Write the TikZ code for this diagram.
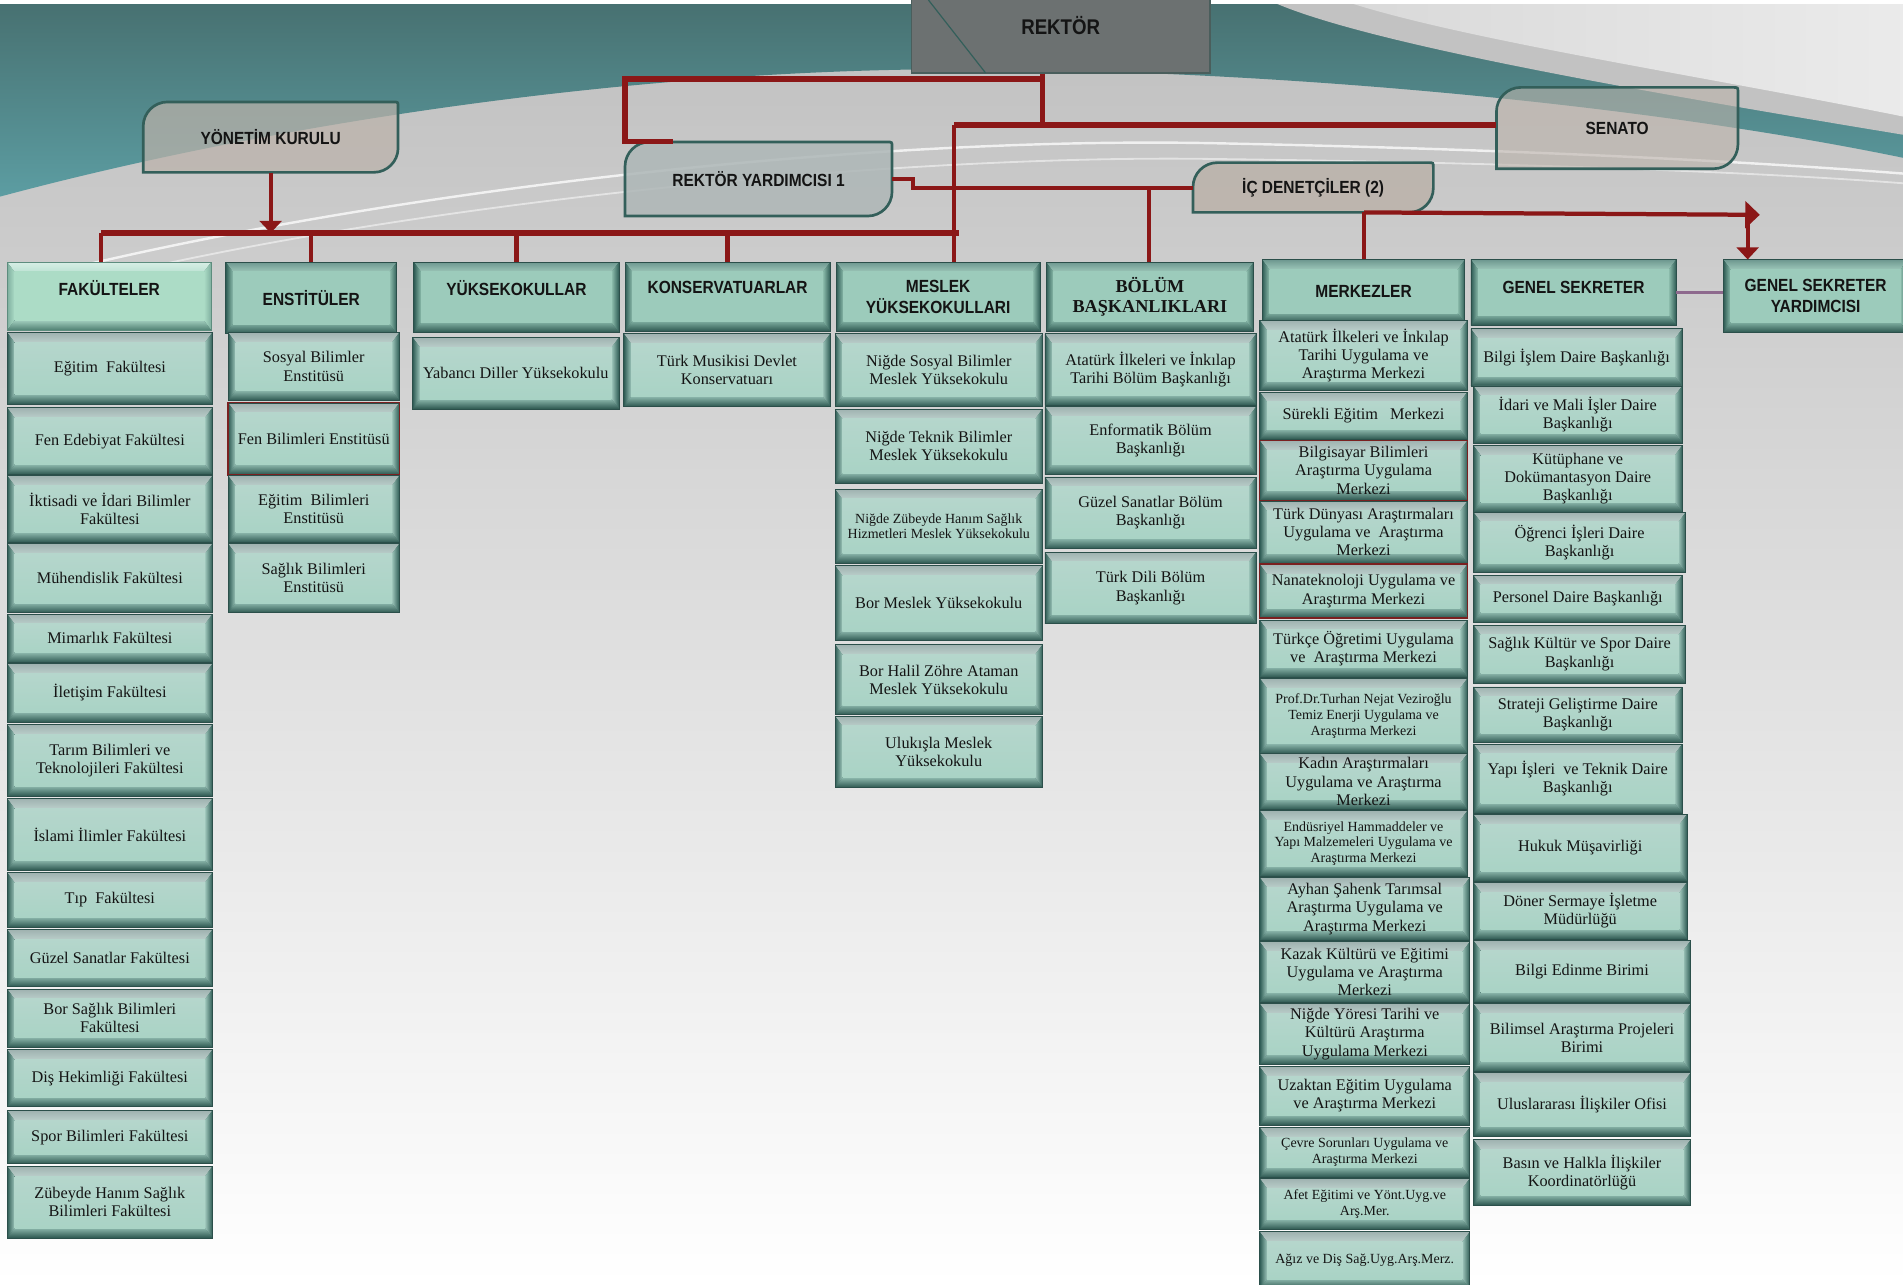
\documentclass[tikz,border=0pt]{standalone}
\usepackage{fontspec}
\setmainfont{Liberation Serif}
\newfontfamily\hfont[FakeStretch=0.88]{Liberation Sans}
\usetikzlibrary{arrows.meta}

\definecolor{txtc}{HTML}{141414}
\definecolor{bvbase}{HTML}{2F5953}
\definecolor{bvline}{HTML}{2B4F4A}
\definecolor{cred}{HTML}{8B1717}
\definecolor{redb}{HTML}{7A2020}
\definecolor{tlline}{HTML}{335F5A}
\definecolor{plc}{HTML}{8E6A8E}
\definecolor{tealA}{HTML}{477070}
\definecolor{tealB}{HTML}{5C9DA2}
\definecolor{ykf}{HTML}{BBB2AA}
\definecolor{ryf}{HTML}{AEB7B7}
\definecolor{rkfill}{HTML}{6C7171}
\definecolor{rkline}{HTML}{4A5E5C}

\newcommand{\bodycolors}{%
 \definecolor{tTa}{HTML}{9FB2B0}\definecolor{tTb}{HTML}{B9CDC9}%
 \definecolor{sO}{HTML}{2F5C55}\definecolor{sI}{HTML}{9CC4B9}%
 \definecolor{bI}{HTML}{88B3A8}\definecolor{bO}{HTML}{2C564F}%
 \definecolor{fT}{HTML}{B5D6CC}\definecolor{fM}{HTML}{CFE9E0}\definecolor{fB}{HTML}{A9D3C5}%
 \definecolor{bvline}{HTML}{2B4F4A}}
\newcommand{\hdrcolors}{%
 \definecolor{tTa}{HTML}{6E9890}\definecolor{tTb}{HTML}{9CC6B8}%
 \definecolor{sO}{HTML}{2F5C55}\definecolor{sI}{HTML}{8DBDAD}%
 \definecolor{bI}{HTML}{7AA99C}\definecolor{bO}{HTML}{2C564F}%
 \definecolor{fT}{HTML}{9CCBBB}\definecolor{fM}{HTML}{B3DCCD}\definecolor{fB}{HTML}{9CCBBB}%
 \definecolor{bvline}{HTML}{2B4F4A}}
\newcommand{\fakcolors}{%
 \definecolor{tTa}{HTML}{D7EEE5}\definecolor{tTb}{HTML}{BDE3D4}%
 \definecolor{sO}{HTML}{7FAF9F}\definecolor{sI}{HTML}{ACDCC6}%
 \definecolor{bI}{HTML}{9FCBBB}\definecolor{bO}{HTML}{4F7F72}%
 \definecolor{fT}{HTML}{ACDCC6}\definecolor{fM}{HTML}{B2DFCB}\definecolor{fB}{HTML}{ACDCC6}%
 \definecolor{bvline}{HTML}{5D8D7E}}
\bodycolors

\newcommand{\bodyf}{\fontsize{13.4}{15}\selectfont}
\newcommand{\smallf}{\fontsize{11.5}{13}\selectfont}
\newcommand{\hdf}{\hfont\bfseries\fontsize{14.5}{17}\selectfont}

\tikzset{
 bxt/.style={inner sep=0pt, align=center, text=txtc, font=\bodyf},
 sm/.style={font=\smallf},
 hdt/.style={font=\hdf},
 bdt/.style={font=\bfseries\fontsize{15}{17}\selectfont},
 redbd/.style={draw=redb, line width=1.2pt},
 conn/.style={draw=cred, line width=3.5pt, line join=miter},
 bus/.style={conn, line width=4.5pt},
 tl/.style={draw=tlline, line width=2.2pt},
 tlt/.style={font=\hfont\bfseries\fontsize{14.5}{17}\selectfont, text=txtc, inner sep=0pt},
 pline/.style={draw=plc, line width=3pt},
 rekt/.style={fill=rkfill, draw=rkline, line width=1.5pt, font=\hfont\bfseries\fontsize{17.5}{19}\selectfont, text=txtc, text depth=16pt, inner sep=0pt},
}

% bevelled box: [node options]{name}{x1}{y1}{x2}{y2}{text}
\newcommand{\bx}[7][]{%
 \fill[bvbase] (#3,#4) rectangle (#5,#6);
 \shade[top color=tTa,bottom color=tTb] (#3,#4) -- (#5,#4) -- ({#5-6},{#4+8}) -- ({#3+6},{#4+8}) -- cycle;
 \shade[left color=sO,right color=sI] (#3,#4) -- ({#3+6},{#4+8}) -- ({#3+6},{#6-8}) -- (#3,#6) -- cycle;
 \shade[left color=sI,right color=sO] (#5,#4) -- ({#5-6},{#4+8}) -- ({#5-6},{#6-8}) -- (#5,#6) -- cycle;
 \shade[top color=bI,bottom color=bO] (#3,#6) -- ({#3+6},{#6-8}) -- ({#5-6},{#6-8}) -- (#5,#6) -- cycle;
 \shade[top color=fT,middle color=fM,bottom color=fB] ({#3+6},{#4+8}) rectangle ({#5-6},{#6-8});
 \draw[draw=bvline,line width=0.7pt] (#3,#4) rectangle (#5,#6);
 \node[bxt,minimum width={(#5-#3)*1pt},minimum height={(#6-#4)*1pt},#1] (#2) at ({(#3+#5)/2},{(#4+#6)/2}) {#7};
}

% top-level rounded-diagonal box: [fill options]{name}{x1}{y1}{x2}{y2}{text}
\newcommand{\tbx}[7][]{%
 \path[tl,#1] (#3,#6) -- ({#3},{#4+20}) .. controls ({#3},{#4+9}) and ({#3+9},{#4}) .. ({#3+20},{#4})
   -- ({#5-4},{#4}) .. controls ({#5},{#4}) .. ({#5},{#4+4})
   -- ({#5},{#6-20}) .. controls ({#5},{#6-9}) and ({#5-9},{#6}) .. ({#5-20},{#6}) -- cycle;
 \node[tlt,minimum width={(#5-#3)*1pt},minimum height={(#6-#4)*1pt}] (#2) at ({(#3+#5)/2},{(#4+#6)/2}) {#7};
}

\begin{document}
\begin{tikzpicture}[x=1pt,y=-1pt]
\useasboundingbox (0,0) rectangle (1568,1058);
% ---------- background ----------
\shade[top color=black!25, middle color=black!13, bottom color=white] (0,0) rectangle (1568,1058);
\shade[top color=tealA, bottom color=tealB] (0,0) -- (1568,0) -- (1568,130)
  .. controls (1350,85) and (1050,58) .. (800,57)
  .. controls (550,56) and (250,95) .. (0,162) -- cycle;
\fill[black!24] (1045,0) .. controls (1120,35) and (1350,75) .. (1568,111) -- (1568,0) -- cycle;
\shade[left color=black!15, right color=black!8] (1105,0) .. controls (1200,32) and (1400,62) .. (1568,96) -- (1568,0) -- cycle;
\draw[white, opacity=0.75, line width=2pt] (30,228) .. controls (300,160) and (700,112) .. (1000,118) .. controls (1200,122) and (1400,130) .. (1568,143);
\draw[white, opacity=0.5, line width=1.5pt] (80,230) .. controls (350,165) and (750,127) .. (1000,131) .. controls (1250,134) and (1450,142) .. (1568,151);
\fill[white] (0,0) rectangle (1568,3);

% ---------- top level ----------
\node[rekt, minimum width=246pt, minimum height=62pt] (rektor) at (874,29) {REKTÖR};
\draw[draw=tlline, line width=1pt] (765,0) -- (812,60);
\tbx[fill=ykf, fill opacity=0.72]{yk}{118}{84}{328}{142}{YÖNETİM KURULU}
\tbx[fill=ryf, fill opacity=0.85]{ry1}{515}{117}{735}{178}{REKTÖR YARDIMCISI 1}
\tbx[fill=ykf, fill opacity=0.6]{senato}{1233}{72}{1432}{139}{SENATO}
\tbx[fill=ykf, fill opacity=0.85]{icd}{983}{134}{1181}{175}{İÇ DENETÇİLER (2)}

% ---------- headers ----------
{\fakcolors
\bx[hdt,text depth=14pt]{fak}{6}{216}{174}{272}{FAKÜLTELER}}
{\hdrcolors
\bx[hdt]{ens}{186}{216}{327}{275}{ENSTİTÜLER}
\bx[hdt,text depth=16pt]{yuk}{341}{216}{510}{274}{YÜKSEKOKULLAR}
\bx[hdt,text depth=15pt]{kons}{515}{216}{684}{273}{KONSERVATUARLAR}
\bx[hdt]{meslek}{689}{216}{857}{273}{MESLEK\\YÜKSEKOKULLARI}
\bx[bdt]{bolum}{862}{216}{1033}{273}{BÖLÜM\\BAŞKANLIKLARI}
\bx[hdt]{merk}{1040}{214}{1207}{266}{MERKEZLER}
\bx[hdt,text depth=8pt]{gs}{1212}{214}{1381}{268}{GENEL SEKRETER}
\bx[hdt]{gsy}{1420}{214}{1572}{274}{GENEL SEKRETER\\YARDIMCISI}}

% ---------- body boxes ----------
% Fakulteler
\bx{f1}{6}{274}{175}{333}{Eğitim\ \ Fakültesi}
\bx{f2}{6}{336}{175}{391}{Fen Edebiyat Fakültesi}
\bx{f3}{6}{392}{175}{447}{İktisadi ve İdari Bilimler\\Fakültesi}
\bx{f4}{6}{448}{175}{505}{Mühendislik Fakültesi}
\bx{f5}{6}{506}{175}{546}{Mimarlık Fakültesi}
\bx{f6}{6}{547}{175}{595}{İletişim Fakültesi}
\bx{f7}{6}{597}{175}{656}{Tarım Bilimleri ve\\Teknolojileri Fakültesi}
\bx{f8}{6}{658}{175}{717}{İslami İlimler Fakültesi}
\bx{f9}{6}{719}{175}{764}{Tıp\ \ Fakültesi}
\bx{f10}{6}{766}{175}{813}{Güzel Sanatlar Fakültesi}
\bx{f11}{6}{815}{175}{863}{Bor Sağlık Bilimleri\\Fakültesi}
\bx{f12}{6}{865}{175}{912}{Diş Hekimliği Fakültesi}
\bx{f13}{6}{915}{175}{959}{Spor Bilimleri Fakültesi}
\bx{f14}{6}{961}{175}{1020}{Zübeyde Hanım Sağlık\\Bilimleri Fakültesi}
% Enstituler
\bx{e1}{188}{274}{329}{330}{Sosyal Bilimler\\Enstitüsü}
\bx{e2}{188}{332}{329}{391}{Fen Bilimleri Enstitüsü}
\draw[redbd] (e2.north west) rectangle (e2.south east);
\bx{e3}{188}{392}{329}{447}{Eğitim\ \ Bilimleri\\Enstitüsü}
\bx{e4}{188}{448}{329}{505}{Sağlık Bilimleri\\Enstitüsü}
% Yuksekokullar
\bx{y1}{340}{278}{510}{337}{Yabancı Diller Yüksekokulu}
% Konservatuarlar
\bx{k1}{514}{275}{684}{335}{Türk Musikisi Devlet\\Konservatuarı}
% Meslek
\bx{m1}{688}{275}{859}{335}{Niğde Sosyal Bilimler\\Meslek Yüksekokulu}
\bx{m2}{688}{337}{859}{398}{Niğde Teknik Bilimler\\Meslek Yüksekokulu}
\bx[sm]{m3}{688}{403}{859}{464}{Niğde Zübeyde Hanım Sağlık\\Hizmetleri Meslek Yüksekokulu}
\bx{m4}{688}{466}{859}{528}{Bor Meslek Yüksekokulu}
\bx{m5}{688}{531}{859}{589}{Bor Halil Zöhre Ataman\\Meslek Yüksekokulu}
\bx{m6}{688}{590}{859}{649}{Ulukışla Meslek\\Yüksekokulu}
% Bolum
\bx{b1}{861}{275}{1035}{334}{Atatürk İlkeleri ve İnkılap\\Tarihi Bölüm Başkanlığı}
\bx{b2}{861}{335}{1035}{391}{Enformatik Bölüm\\Başkanlığı}
\bx{b3}{861}{393}{1035}{452}{Güzel Sanatlar Bölüm\\Başkanlığı}
\bx{b4}{861}{455}{1035}{514}{Türk Dili Bölüm\\Başkanlığı}
% Merkezler
\bx{c1}{1038}{264}{1209}{322}{Atatürk İlkeleri ve İnkılap\\Tarihi Uygulama ve\\Araştırma Merkezi}
\bx{c2}{1038}{323}{1209}{362}{Sürekli Eğitim\ \ \ Merkezi}
\bx{c3}{1038}{363}{1209}{412}{Bilgisayar Bilimleri\\Araştırma Uygulama\\Merkezi}
\draw[redbd] (c3.north west) rectangle (c3.south east);
\bx{c4}{1038}{413}{1209}{464}{Türk Dünyası Araştırmaları\\Uygulama ve\ \ Araştırma\\Merkezi}
\bx{c5}{1038}{465}{1209}{509}{Nanateknoloji Uygulama ve\\Araştırma Merkezi}
\draw[redbd] (c5.north west) rectangle (c5.south east);
\bx{c6}{1038}{511}{1209}{558}{Türkçe Öğretimi Uygulama\\ve\ \ Araştırma Merkezi}
\bx[sm]{c7}{1038}{559}{1209}{621}{Prof.Dr.Turhan Nejat Veziroğlu\\Temiz Enerji Uygulama ve\\Araştırma Merkezi}
\bx{c8}{1038}{621}{1209}{667}{Kadın Araştırmaları\\Uygulama ve Araştırma\\Merkezi}
\bx[sm]{c9}{1038}{668}{1209}{722}{Endüsriyel Hammaddeler ve\\Yapı Malzemeleri Uygulama ve\\Araştırma Merkezi}
\bx{c10}{1038}{723}{1211}{775}{Ayhan Şahenk Tarımsal\\Araştırma Uygulama ve\\Araştırma Merkezi}
\bx{c11}{1038}{776}{1211}{826}{Kazak Kültürü ve Eğitimi\\Uygulama ve Araştırma\\Merkezi}
\bx{c12}{1038}{827}{1211}{877}{Niğde Yöresi Tarihi ve\\Kültürü Araştırma\\Uygulama Merkezi}
\bx{c13}{1038}{879}{1211}{927}{Uzaktan Eğitim Uygulama\\ve Araştırma Merkezi}
\bx[sm]{c14}{1038}{929}{1211}{970}{Çevre Sorunları Uygulama ve\\Araştırma Merkezi}
\bx[sm]{c15}{1038}{971}{1211}{1013}{Afet Eğitimi ve Yönt.Uyg.ve\\Arş.Mer.}
\bx[sm]{c16}{1038}{1015}{1211}{1062}{Ağız ve Diş Sağ.Uyg.Arş.Merz.}
% Genel Sekreter
\bx{g1}{1212}{271}{1386}{318}{Bilgi İşlem Daire Başkanlığı}
\bx{g2}{1214}{318}{1386}{365}{İdari ve Mali İşler Daire\\Başkanlığı}
\bx{g3}{1214}{367}{1386}{422}{Kütüphane ve\\Dokümantasyon Daire\\Başkanlığı}
\bx{g4}{1214}{422}{1389}{472}{Öğrenci İşleri Daire\\Başkanlığı}
\bx{g5}{1214}{474}{1386}{513}{Personel Daire Başkanlığı}
\bx{g6}{1214}{515}{1389}{563}{Sağlık Kültür ve Spor Daire\\Başkanlığı}
\bx{g7}{1214}{566}{1386}{612}{Strateji Geliştirme Daire\\Başkanlığı}
\bx{g8}{1214}{613}{1386}{670}{Yapı İşleri\ \ ve Teknik Daire\\Başkanlığı}
\bx{g9}{1214}{671}{1390}{726}{Hukuk Müşavirliği}
\bx{g10}{1214}{727}{1390}{774}{Döner Sermaye İşletme\\Müdürlüğü}
\bx{g11}{1214}{775}{1393}{826}{Bilgi Edinme Birimi}
\bx{g12}{1214}{827}{1393}{883}{Bilimsel Araştırma Projeleri\\Birimi}
\bx{g13}{1214}{884}{1393}{936}{Uluslararası İlişkiler Ofisi}
\bx{g14}{1214}{939}{1393}{993}{Basın ve Halkla İlişkiler\\Koordinatörlüğü}

% ---------- connectors ----------
\coordinate (jA) at (859,65);
\coordinate (jAl) at (515,65);
\coordinate (jB) at (859,103);
\coordinate (jC) at (786,103);
\coordinate (jD) at (752,155);
\coordinate (jE) at (947,155);
\coordinate (busL) at (83,192);
\coordinate (busR) at (790,192);
\coordinate (jF) at (1124,175);
\coordinate (jG) at (1450,177);
\coordinate (jH) at (1440,180);

\draw[conn] (rektor.south -| jA) -- (jB);
\draw[bus] (jC) -- (jC -| senato.west);
\draw[bus] (jA) -- (jAl) -- (jAl |- ry1.north) -- ([xshift=40pt]ry1.north west);
\draw[conn] (jC) -- (jC |- meslek.north);
\draw[conn] (ry1.east) -- (ry1.east -| jD) -- (jD) -- (jD -| icd.west);
\draw[conn] (jE) -- (jE |- bolum.north);
\draw[bus] (busL) -- (busR);
\draw[conn] (busL) -- (busL |- fak.north);
\draw[conn] (ens.north |- busL) -- (ens.north);
\draw[conn] (yuk.north |- busL) -- (yuk.north);
\draw[conn] (kons.north |- busL) -- (kons.north);
\draw[conn,-{Triangle[length=10pt,width=18pt]}] (yk.south) -- (yk.south |- busL);
\draw[conn] (jF |- merk.north) -- (jF);
\draw[conn,-{Triangle[length=12pt,width=22pt]}] (jF) -- (jG);
\draw[conn,-{Triangle[length=10pt,width=18pt]}] (jH) -- (jH |- gsy.north);
\draw[pline] (gs.east) -- (gs.east -| gsy.west);
\end{tikzpicture}
\end{document}
